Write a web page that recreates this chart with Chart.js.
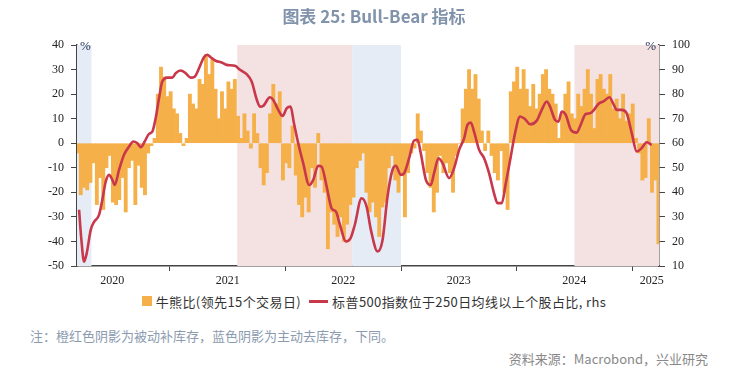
<!DOCTYPE html>
<html>
<head>
<meta charset="utf-8">
<script src="https://cdn.jsdelivr.net/npm/chart.js@4.4.1/dist/chart.umd.min.js"></script>
<style>
  body { margin: 0; background: #fff; }
  #wrap { position: relative; width: 748px; height: 371px; overflow: hidden; }
  #title { position: absolute; left: 0; top: 3px; width: 748px; text-align: center;
    font: bold 17px "Noto Sans CJK SC", sans-serif; color: #8193ab; }
  #myChart { position: absolute; left: 0; top: 0; }
  #legend { position: absolute; left: 0; top: 290px; width: 748px; text-align: center;
    font: 13px "Noto Sans CJK SC", sans-serif; color: #333; letter-spacing: 0.4px; white-space: nowrap; }
  #legend span { display: inline-block; vertical-align: middle; }
  .box { width: 10px; height: 10px; background: #f5b04a; margin-right: 4px; }
  .ln { width: 19px; height: 3px; background: #c8374a; margin: 0 4px 0 8px; }
  #note { position: absolute; left: 30px; top: 326px; font: 13px "Noto Sans CJK SC", sans-serif; color: #8c9bb0; }
  #src { position: absolute; right: 40px; top: 349px; font: 13px "Noto Sans CJK SC", sans-serif; color: #888; }
</style>
</head>
<body>
<div id="wrap">
  <canvas id="myChart" width="748" height="290"></canvas>
  <div id="title">图表 25: Bull-Bear 指标</div>
  <div id="legend"><span class="box"></span><span>牛熊比(领先15个交易日)</span><span class="ln"></span><span>标普500指数位于250日均线以上个股占比, rhs</span></div>
  <div id="note">注：橙红色阴影为被动补库存，蓝色阴影为主动去库存，下同。</div>
  <div id="src">资料来源：Macrobond，兴业研究</div>
</div>
<script>
// bull-bear ratio, one bar every 1/36 year starting 2020.2
const barStart = 2020.2;
const barStep = 1 / 36;
const barValues = [
  -4, -21, -18, -19, -16, -8, -25, -14, -27, -10,
  -5, -24, -25, -23, -14, -28, -10, -7, -25, -9,
  -18, -21, -4, -1, 2, 20, 31, 27, 19, 21,
  14, 12, 4, -1, 2, 20, 16, 14, 26, 24,
  36, 28, 34, 22, 10, 21, 14, 25, 22, 26,
  11, 2, 12, 5, -2, 12, 4, -10, -17, -12,
  12, 24, 16, 21, -15, -8, -10, 7, -13, -25,
  -30, -22, -28, -10, -18, 4, -15, -20, -43, -28,
  -33, -38, -30, -40, -33, -25, -22, -10, -7, -4,
  -20, -28, -24, -30, -38, -26, -24, -10, -5, -15,
  -20, -13, -30, -12, -4, -2, 12, 5, -3, -12,
  -18, -28, -20, -5, -12, -8, -12, -20, -5, 0,
  14, 22, 30, 22, 28, 18, 5, -3, 5, -5,
  -12, -15, -3, -20, -27, 21, 25, 31, 22, 30,
  22, 15, 24, 14, 20, 28, 30, 22, 20, 16,
  2, 12, 20, 25, 12, 10, 20, 15, 22, 30,
  20, 6, 26, 28, 22, 20, 28, 14, 18, 10,
  20, 9, 12, 16, 2, -4, -15, -14, 10, -20,
  -15, -41
];

// S&P 500 share of stocks above 250d MA (rhs), dates as decimal years
const lineDates = [
  2020.213, 2020.233, 2020.256, 2020.279, 2020.314, 2020.343, 2020.386, 2020.414, 2020.444, 2020.472,
  2020.501, 2020.522, 2020.559, 2020.602, 2020.645, 2020.683, 2020.717, 2020.747, 2020.781, 2020.818,
  2020.847, 2020.876, 2020.905, 2020.933, 2020.977,
  2021.020, 2021.049, 2021.093, 2021.136, 2021.179, 2021.214, 2021.251, 2021.294, 2021.323, 2021.352,
  2021.395, 2021.452, 2021.490, 2021.562, 2021.606, 2021.663, 2021.707, 2021.750, 2021.779, 2021.807,
  2021.865, 2021.894, 2021.937, 2021.975,
  2022.010, 2022.044, 2022.073, 2022.110, 2022.153, 2022.205, 2022.240, 2022.283, 2022.312, 2022.356,
  2022.399, 2022.436, 2022.471, 2022.522, 2022.563, 2022.600, 2022.658, 2022.702, 2022.739, 2022.797,
  2022.840, 2022.883, 2022.926, 2022.955, 2022.998,
  2023.027, 2023.070, 2023.113, 2023.143, 2023.171, 2023.215, 2023.258, 2023.286, 2023.324, 2023.359,
  2023.416, 2023.459, 2023.503, 2023.546, 2023.575, 2023.604, 2023.632, 2023.676, 2023.719, 2023.762,
  2023.805, 2023.835, 2023.872, 2023.907, 2023.950, 2023.987,
  2024.030, 2024.074, 2024.117, 2024.175, 2024.218, 2024.261, 2024.290, 2024.333, 2024.363, 2024.391,
  2024.426, 2024.471, 2024.521, 2024.549, 2024.599, 2024.636, 2024.665, 2024.708, 2024.752, 2024.804,
  2024.838, 2024.867, 2024.910, 2024.953, 2024.997,
  2025.040, 2025.083, 2025.126, 2025.170
];
const lineValues = [
  32.9, 20.6, 11.8, 15.2, 24.7, 28, 30.8, 36.9, 44.4, 47.1,
  45.1, 43, 49.1, 55.3, 58.6, 60.7, 60, 58.4, 60.7, 63.8,
  64.7, 70.2, 78.3, 85.1, 86.7,
  86.7, 88.5, 89.6, 88.5, 86.7, 87.1, 90.5, 95, 96, 95,
  93.6, 92.8, 91.9, 91.5, 89.9, 88.1, 85.1, 77.9, 74.9, 75.2,
  78.7, 77.6, 73.6, 71.1,
  74.2, 74.9, 68.1, 60, 51.9, 43, 45.1, 50.8, 50.5, 42.4,
  33.5, 32.2, 26.8, 20, 21.3, 26.8, 37.6, 34.2, 24.7, 15.9,
  20.6, 38.3, 49.1, 50.8, 47.1,
  47.8, 53.9, 61.1, 61.4, 55.9, 45.1, 43, 47.8, 53.9, 51.9,
  45.8, 49.8, 57.3, 62, 67.5, 68.4, 64.7, 57.3, 53.9, 47.8,
  39.6, 35.6, 35.6, 43.7, 54.6, 64.1,
  70.9, 69.8, 67.7, 69.2, 73.6, 77, 74.9, 69.5, 68.8, 72.9,
  71.5, 65.4, 64.3, 66.8, 71.9, 72.2, 73.3, 76, 77, 78.7,
  76, 73.6, 73.6, 72.2, 64.1,
  56.6, 58, 60.4, 59.3
];

const yearTicks = [2021, 2022, 2023, 2024, 2025];
const yearLabels = ['2020', '2021', '2022', '2023', '2024', '2025'];
const yearLabelPos = [2020.5, 2021.5, 2022.5, 2023.5, 2024.5, 2025.17];

// shaded periods
const pinkPeriods = [[2021.582, 2022.577], [2024.501, 2025.3]];
const bluePeriods = [[2020.15, 2020.32], [2022.577, 2023.0]];

const shading = {
  id: 'shading',
  beforeDatasetsDraw(chart) {
    const { ctx, chartArea: a, scales: { x } } = chart;
    ctx.save();
    ctx.beginPath();
    ctx.rect(a.left, a.top, a.right - a.left, a.bottom - a.top);
    ctx.clip();
    const fillPeriods = (list, color) => {
      ctx.fillStyle = color;
      list.forEach(p => {
        const x0 = x.getPixelForValue(p[0]);
        const x1 = x.getPixelForValue(p[1]);
        ctx.fillRect(x0, a.top, x1 - x0, a.bottom - a.top);
      });
    };
    fillPeriods(pinkPeriods, '#f4e1e2');
    fillPeriods(bluePeriods, '#e5ecf5');
    ctx.restore();
  }
};

const extraText = {
  id: 'extraText',
  afterDraw(chart) {
    const { ctx, chartArea: a, scales: { x } } = chart;
    ctx.save();
    ctx.font = '12px "Liberation Serif", serif';
    ctx.fillStyle = '#222';
    ctx.textAlign = 'center';
    ctx.textBaseline = 'middle';
    yearLabels.forEach((t, i) => ctx.fillText(t, x.getPixelForValue(yearLabelPos[i]), a.bottom + 15));
    ctx.font = '13px "Liberation Serif", serif';
    ctx.fillStyle = '#1d2b4f';
    ctx.textBaseline = 'top';
    ctx.textAlign = 'left';
    ctx.fillText('%', a.left + 3, a.top - 5);
    ctx.textAlign = 'right';
    ctx.fillText('%', a.right - 3, a.top - 5);
    ctx.restore();
  }
};

const ctx = document.getElementById('myChart');
const axisColor = '#444';
const tickFont = { family: '"Liberation Serif", serif', size: 12 };

new Chart(ctx, {
  data: {
    datasets: [
      {
        type: 'line',
        label: '标普500指数位于250日均线以上个股占比, rhs',
        data: lineDates.map((d, i) => ({ x: d, y: lineValues[i] })),
        yAxisID: 'y1',
        borderColor: '#c8374a',
        borderWidth: 2.6,
        pointRadius: 0,
        cubicInterpolationMode: 'monotone',
        order: 0
      },
      {
        type: 'bar',
        label: '牛熊比(领先15个交易日)',
        data: barValues.map((v, i) => ({ x: barStart + i * barStep, y: v })),
        yAxisID: 'y',
        backgroundColor: '#f5b04a',
        borderWidth: 0,
        barPercentage: 1,
        categoryPercentage: 1,
        order: 1
      }
    ]
  },
  options: {
    responsive: false,
    animation: false,
    layout: { padding: { top: 45, left: 0, right: 0, bottom: 0 } },
    plugins: { legend: { display: false }, tooltip: { enabled: false } },
    scales: {
      x: {
        type: 'linear',
        offset: false,
        min: 2020.195,
        max: 2025.233,
        afterBuildTicks: s => { s.ticks = yearTicks.map(v => ({ value: v })); },
        afterFit: s => { s.height = 24; },
        ticks: { callback: () => '', autoSkip: false },
        grid: { offset: false, drawOnChartArea: false, drawTicks: true, tickLength: 5, color: axisColor },
        border: { display: true, color: axisColor, width: 1.5 }
      },
      y: {
        position: 'left',
        min: -50,
        max: 40,
        ticks: { stepSize: 10, font: tickFont, color: '#222', padding: 7 },
        afterFit: s => { s.width = 77; },
        grid: { drawOnChartArea: false, drawTicks: true, tickLength: 6, color: axisColor },
        border: { display: true, color: axisColor, width: 1.5 }
      },
      y1: {
        position: 'right',
        min: 10,
        max: 100,
        ticks: { stepSize: 10, font: tickFont, color: '#222', padding: 7 },
        afterFit: s => { s.width = 89; },
        grid: { drawOnChartArea: false, drawTicks: true, tickLength: 6, color: axisColor },
        border: { display: true, color: axisColor, width: 1.5 }
      }
    }
  },
  plugins: [shading, extraText]
});
</script>
</body>
</html>
